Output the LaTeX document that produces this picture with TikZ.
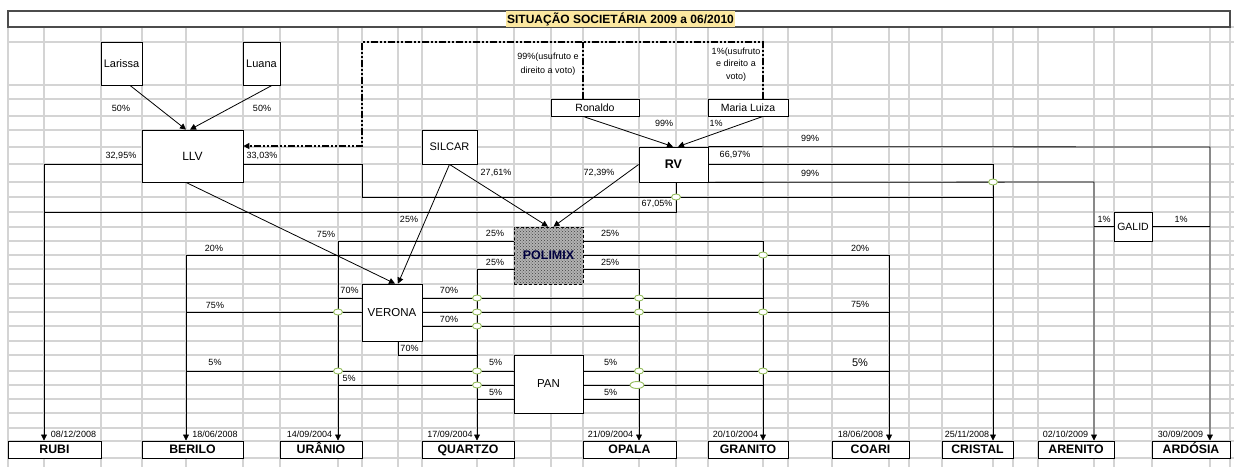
\documentclass[tikz,border=0pt]{standalone}
\usepackage{fontspec}
\setmainfont{Liberation Sans}
\usetikzlibrary{arrows.meta,shapes.geometric,patterns,calc}
\definecolor{jmp}{RGB}{150,190,95}
\definecolor{gridc}{RGB}{212,212,212}
\definecolor{hl}{RGB}{252,232,160}
\begin{document}
\begin{tikzpicture}[x=1pt,y=-1pt,
  gridl/.style={draw=gridc,line width=1.5pt},
  box/.style={draw,fill=white,line width=0.8pt,inner sep=0pt,font=\fontsize{11}{12}\selectfont},
  cbox/.style={draw,fill=white,line width=1pt,inner sep=0pt,minimum height=17pt,text height=9pt,text depth=2pt,font=\bfseries\fontsize{12.3}{13}\selectfont},
  conn/.style={draw,line width=0.8pt},
  arr/.style={conn,-{Triangle[length=6pt,width=6pt]}},
  jump/.style={ellipse,draw=jmp,fill=white,line width=0.9pt,minimum width=9pt,minimum height=6pt,inner sep=0pt},
  lbl/.style={inner sep=0pt,font=\fontsize{9}{10}\selectfont},
  dd/.style={line width=2pt,dash pattern=on 7pt off 2pt on 2pt off 2pt on 2pt off 2pt}
]
\useasboundingbox (0,0) rectangle (1234,467);
\fill[white] (0,0) rectangle (1234,467);
% grid
\foreach \x in {8,44,101,142,186,243,280,338,362,398,422,477,514,551,583,639,676,708,763,788,832,889,909,942,993,1013,1038,1094,1114,1152,1210,1230}
  {\draw[gridl] (\x,27) -- (\x,467); \coordinate (c\x) at (\x,0);}
\foreach \y in {27,42,85,99,116,130,147,164,182,197,212,227,241,255,269,284,298,312,326,341,355,371,385,399,413,428,441,458}
  {\draw[gridl] (8,\y) -- (1234,\y); \coordinate (r\y) at (0,\y);}
\coordinate (r146) at (0,146);
% title
\node[draw=black!70,line width=1.2pt,minimum width=1222pt,minimum height=16pt,inner sep=0pt,fill=white] (titlebox) at (619,19) {};
\node[fill=hl,inner sep=1.2pt,font=\bfseries\fontsize{12}{13}\selectfont] (title) at (620.5,19) {SITUAÇÃO SOCIETÁRIA 2009 a 06/2010};
% nodes
\node[box,minimum width=41pt,minimum height=43pt] (larissa) at (121.5,63.5) {Larissa};
\node[box,minimum width=37pt,minimum height=43pt] (luana) at (261.5,63.5) {Luana};
\node[box,minimum width=101pt,minimum height=52pt,font=\fontsize{12}{13}\selectfont] (llv) at (192.5,156) {LLV};
\node[box,minimum width=55pt,minimum height=34pt] (silcar) at (449.5,147) {SILCAR};
\node[box,minimum width=88pt,minimum height=17pt,font=\fontsize{10.5}{11}\selectfont] (ronaldo) at (595,107.5) {Ronaldo};
\node[box,minimum width=80pt,minimum height=17pt,font=\fontsize{10.5}{11}\selectfont] (maria) at (748,107.5) {Maria Luiza};
\node[box,minimum width=69pt,minimum height=35pt,font=\bfseries\fontsize{12.5}{13}\selectfont] (rv) at (673.5,164.5) {RV};
\node[box,densely dashed,fill=black!30,minimum width=69pt,minimum height=57pt,font=\bfseries\fontsize{12.5}{13}\selectfont,text=blue!25!black,postaction={pattern=crosshatch dots,pattern color=black!75}] (polimix) at (548.5,255.5) {POLIMIX};
\node[box,minimum width=60pt,minimum height=57pt,font=\fontsize{11.5}{12}\selectfont] (verona) at (392,312.5) {VERONA};
\node[box,minimum width=69pt,minimum height=58pt,font=\fontsize{11.5}{12}\selectfont] (pan) at (548.5,384) {PAN};
\node[box,minimum width=38pt,minimum height=29pt,font=\fontsize{10.5}{11}\selectfont] (galid) at (1133,226.5) {GALID};
% bottom companies
\node[cbox,minimum width=93pt] (rubi) at (54.5,449.5) {RUBI};
\node[cbox,minimum width=101pt] (berilo) at (192.5,449.5) {BERILO};
\node[cbox,minimum width=82pt] (uranio) at (321,449.5) {URÂNIO};
\node[cbox,minimum width=92pt] (quartzo) at (468,449.5) {QUARTZO};
\node[cbox,minimum width=93pt] (opala) at (629.5,449.5) {OPALA};
\node[cbox,minimum width=80pt] (granito) at (748,449.5) {GRANITO};
\node[cbox,minimum width=77pt] (coari) at (870.5,449.5) {COARI};
\node[cbox,minimum width=71pt] (cristal) at (977.5,449.5) {CRISTAL};
\node[cbox,minimum width=76pt] (arenito) at (1076,449.5) {ARENITO};
\node[cbox,minimum width=78pt] (ardosia) at (1191,449.5) {ARDÓSIA};
% dash-dot usufruct lines
\draw[dd] (ronaldo.north -| c583) -- (c583 |- r42);
\draw[dd,-{Triangle[length=6pt,width=6pt]}] (maria.north -| c763) -- (c763 |- r42) -- (c362 |- r42) -- (c362 |- r146) -- (llv.east |- r146);
% diagonal arrows
\draw[arr] ([xshift=8.5pt]larissa.south) -- ([xshift=-6.5pt]llv.north);
\draw[arr] ([xshift=10.5pt]luana.south) -- ([xshift=-2.5pt]llv.north);
\draw[arr] ([xshift=-12pt]ronaldo.south) -- ([xshift=-0.5pt]rv.north);
\draw[arr] ([xshift=15pt]maria.south) -- ([xshift=4.5pt]rv.north);
\draw[arr] (rv.west) -- ([xshift=5pt]polimix.north);
\draw[arr] (silcar.south) -- ([xshift=-0.5pt]polimix.north);
\draw[arr] (silcar.south) -- ([xshift=6pt]verona.north);
\draw[arr] ([xshift=-6.5pt]llv.south) -- ([xshift=3pt]verona.north);
% RUBI
\draw[arr] (llv.west |- r164) -- (c44 |- r164) -- (c44 |- rubi.north);
\draw[conn] (rv.south -| c676) -- (c676 |- r212) -- (c44 |- r212);
% CRISTAL
\draw[conn] (llv.east |- r164) -- (c362 |- r164) -- (c362 |- r197) -- (c993 |- r197);
\draw[arr] (rv.east |- r164) -- (c993 |- r164) -- (c993 |- cristal.north);
% ARENITO / ARDOSIA
\draw[arr] (rv.south east) -- (c1094 |- r182) -- (c1094 |- arenito.north);
\draw[conn] (galid.west) -- (c1094 |- galid.west);
\draw[arr] (rv.north east) -- (c1210 |- r147) -- (c1210 |- ardosia.north);
\draw[conn] (galid.east) -- (c1210 |- galid.east);
% POLIMIX
\draw[arr] (polimix.west |- r241) -- (c338 |- r241) -- (c338 |- uranio.north);
\draw[arr] (polimix.west |- r255) -- (c186 |- r255) -- (c186 |- berilo.north);
\draw[arr] (polimix.west |- r269) -- (c477 |- r269) -- (c477 |- quartzo.north);
\draw[arr] (polimix.east |- r241) -- (c763 |- r241) -- (c763 |- granito.north);
\draw[arr] (polimix.east |- r255) -- (c889 |- r255) -- (c889 |- coari.north);
\draw[arr] (polimix.east |- r269) -- (c639 |- r269) -- (c639 |- opala.north);
% VERONA
\draw[conn] (verona.west |- r298) -- (c338 |- r298);
\draw[conn] (verona.west |- r312) -- (c186 |- r312);
\draw[conn] (verona.east |- r298) -- (c763 |- r298);
\draw[conn] (verona.east |- r312) -- (c889 |- r312);
\draw[conn] (verona.east |- r326) -- (c639 |- r326);
\draw[conn] (verona.south -| c398) -- (c398 |- r355) -- (c477 |- r355);
% PAN
\draw[conn] (pan.west |- r371) -- (c186 |- r371);
\draw[conn] (pan.west |- r385) -- (c338 |- r385);
\draw[conn] (pan.west |- r399) -- (c477 |- r399);
\draw[conn] (pan.east |- r371) -- (c889 |- r371);
\draw[conn] (pan.east |- r385) -- (c763 |- r385);
\draw[conn] (pan.east |- r399) -- (c639 |- r399);
% line jumps
\foreach \p/\q in {676/197,993/182,763/255,477/298,639/298,338/312,477/312,639/312,763/312,477/326,338/371,477/371,639/371,763/371,477/385}
  \node[jump] at (\p,\q) {};
\node[jump,minimum width=14pt,minimum height=7pt] at (637,385) {};
% labels
\node[lbl] (l1) at (121,108) {50\%};
\node[lbl] (l2) at (262,108) {50\%};
\node[lbl] (l3) at (121,156) {32,95\%};
\node[lbl] (l4) at (262,156) {33,03\%};
\node[lbl,align=center,font=\fontsize{9}{13.5}\selectfont] (l5) at (548,64) {99\%(usufruto e\\direito a voto)};
\node[lbl,align=center,font=\fontsize{9}{12.5}\selectfont] (l6) at (736,64.5) {1\%(usufruto\\e direito a\\voto)};
\node[lbl] (l7) at (664,123) {99\%};
\node[lbl] (l8) at (716,123) {1\%};
\node[lbl] (l9) at (810,138) {99\%};
\node[lbl] (l10) at (735,155) {66,97\%};
\node[lbl] (l11) at (810,173) {99\%};
\node[lbl] (l12) at (496,173) {27,61\%};
\node[lbl] (l13) at (599,173) {72,39\%};
\node[lbl] (l14) at (657,204) {67,05\%};
\node[lbl] (l15) at (409,219) {25\%};
\node[lbl] (l16) at (326,234) {75\%};
\node[lbl] (l17) at (495,233) {25\%};
\node[lbl] (l18) at (610,233) {25\%};
\node[lbl] (l19) at (214,248) {20\%};
\node[lbl] (l20) at (860,248) {20\%};
\node[lbl] (l21) at (495,262) {25\%};
\node[lbl] (l22) at (610,262) {25\%};
\node[lbl] (l23) at (349.5,290) {70\%};
\node[lbl] (l24) at (449,290) {70\%};
\node[lbl] (l25) at (215,305) {75\%};
\node[lbl] (l26) at (860,304) {75\%};
\node[lbl] (l27) at (449,319) {70\%};
\node[lbl] (l28) at (409.5,348) {70\%};
\node[lbl] (l29) at (215,362) {5\%};
\node[lbl] (l30) at (495.5,362) {5\%};
\node[lbl] (l31) at (610.5,362) {5\%};
\node[lbl,font=\fontsize{11}{12}\selectfont] (l32) at (860,363) {5\%};
\node[lbl] (l33) at (349,378) {5\%};
\node[lbl] (l34) at (495.5,392) {5\%};
\node[lbl] (l35) at (610.5,392) {5\%};
\node[lbl] (l36) at (1104,219) {1\%};
\node[lbl] (l37) at (1181,219) {1\%};
% dates
\node[lbl] (d1) at (73.5,434) {08/12/2008};
\node[lbl] (d2) at (215,434) {18/06/2008};
\node[lbl] (d3) at (309.5,434) {14/09/2004};
\node[lbl] (d4) at (450,434) {17/09/2004};
\node[lbl] (d5) at (610.5,434) {21/09/2004};
\node[lbl] (d6) at (735.5,434) {20/10/2004};
\node[lbl] (d7) at (860.5,434) {18/06/2008};
\node[lbl] (d8) at (967,434) {25/11/2008};
\node[lbl] (d9) at (1065.5,434) {02/10/2009};
\node[lbl] (d10) at (1180.5,434) {30/09/2009};
\end{tikzpicture}
\end{document}
